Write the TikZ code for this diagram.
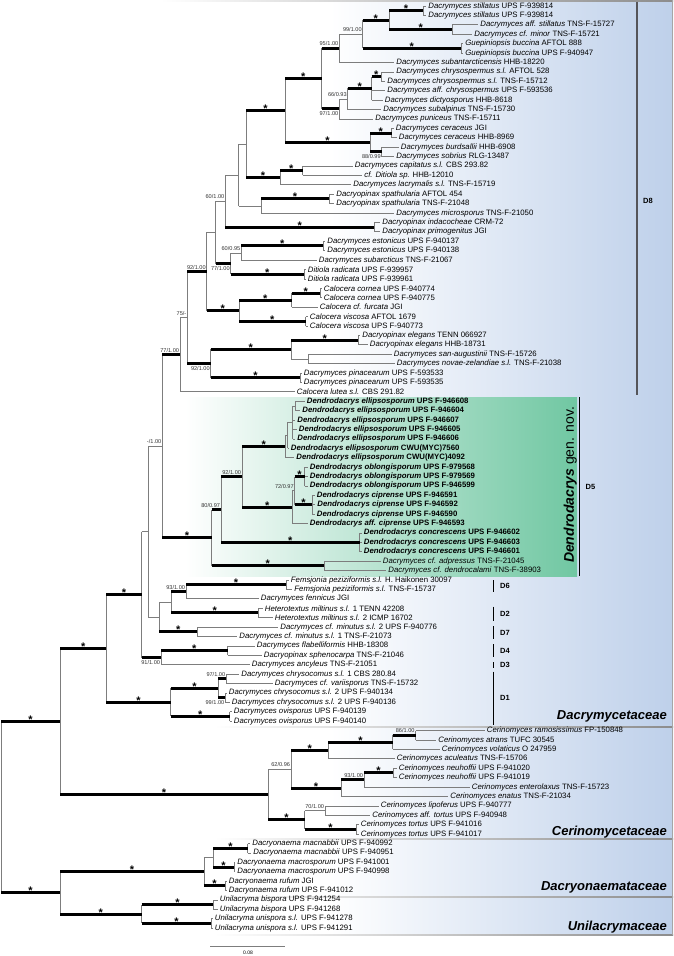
\documentclass[tikz,border=0pt]{standalone}
\definecolor{bgblue}{RGB}{190, 208, 234}
\definecolor{genusgreen}{RGB}{112, 199, 162}
\definecolor{thingray}{RGB}{125, 125, 125}
\definecolor{bargray}{RGB}{85, 85, 90}
\usepackage{fontspec}
\setmainfont{Liberation Sans}
\usepackage{tikz}
\usetikzlibrary{calc}
\tikzset{
    vl/.style={draw=thingray, line width=0.7pt},
    tb/.style={draw=thingray, line width=0.7pt},
    sb/.style={draw=black, line width=3pt},
    leaf/.style={anchor=west, inner sep=0pt, xshift=2.2pt, font=\fontsize{7.8}{9}\selectfont},
    bsl/.style={inner sep=0pt, font=\fontsize{5.6}{6}\selectfont, text=black!80},
    ast/.style={anchor=base, inner sep=0pt, yshift=-2pt, font=\fontsize{11}{11}\selectfont\bfseries},
    clade/.style={draw=black, line width=1.1pt},
    cladelab/.style={anchor=west, inner sep=0pt, font=\fontsize{7.5}{8}\selectfont\bfseries},
    fam/.style={anchor=east, inner sep=0pt, font=\fontsize{13}{13}\selectfont\bfseries\itshape},
    sepline/.style={left color=white, right color=black!45}
}
% leaf i at tip x: italic name, voucher
\newcommand{\lf}[4]{\coordinate (l#1) at (#2,{6+(#1-1)*9.41}); \node[leaf] (t#1) at (l#1) {\textit{#3} #4};}
\newcommand{\lfb}[4]{\coordinate (l#1) at (#2,{6+(#1-1)*9.41}); \node[leaf] (t#1) at (l#1) {\bfseries\textit{#3} #4};}
% internal node at x, halfway between first and last child
\newcommand{\nd}[4]{\path let \p1=(#3), \p2=(#4) in coordinate (#1) at (#2pt,{0.5*(\y1+\y2)});}
% branches: thin, thick, thick with star
\newcommand{\et}[2]{\draw[vl] (#1) -- (#1 |- #2); \draw[tb] (#1 |- #2) -- (#2);}
\newcommand{\eb}[2]{\draw[vl] (#1) -- (#1 |- #2); \draw[sb] (#1 |- #2) -- (#2);}
\newcommand{\es}[2]{\eb{#1}{#2}\node[ast] (a-#2) at ($(#1 |- #2)!.5!(#2)$) {*};}
% support values above / below the branch
\newcommand{\bsa}[2]{\node[bsl, anchor=south east] (s-#1) at ([xshift=-0.8pt, yshift=2.2pt]#1) {#2};}
\newcommand{\bsb}[2]{\node[bsl, anchor=north east] (s-#1) at ([xshift=-0.8pt, yshift=-2.2pt]#1) {#2};}

\begin{document}
\begin{tikzpicture}[x=1pt, y=-1pt]
    \useasboundingbox (0,0) rectangle (673,956);

    % family panels and genus box
    \shade[left color=white, right color=bgblue] (330,0) rectangle (673,935);
    \shade[left color=white, right color=genusgreen] (185,397.3) rectangle (577,576);
    \shade[sepline] (160,0) rectangle (673,1.2);
    \shade[sepline] (215,726.5) rectangle (673,727.5);
    \shade[sepline] (215,838.8) rectangle (673,839.8);
    \shade[sepline] (215,896.2) rectangle (673,897.2);
    \shade[sepline] (215,934.5) rectangle (673,935.5);
    \draw[black!35, line width=0.6pt] (672.6,0) -- (672.6,935);

    % leaves
    \lf{1}{426}{Dacrymyces stillatus}{UPS F-939814}
    \lf{2}{426}{Dacrymyces stillatus}{UPS F-939814}
    \lf{3}{478}{Dacrymyces aff. stillatus}{TNS-F-15727}
    \lf{4}{472}{Dacrymyces cf. minor}{TNS-F-15721}
    \lf{5}{463}{Guepiniopsis buccina}{AFTOL 888}
    \lf{6}{463}{Guepiniopsis buccina}{UPS F-940947}
    \lf{7}{394}{Dacrymyces subantarcticensis}{HHB-18220}
    \lf{8}{394}{Dacrymyces chrysospermus s.l.}{AFTOL 528}
    \lf{9}{385}{Dacrymyces chrysospermus s.l.}{TNS-F-15712}
    \lf{10}{385}{Dacrymyces aff. chrysospermus}{UPS F-593536}
    \lf{11}{382.5}{Dacrymyces dictyosporus}{HHB-8618}
    \lf{12}{381}{Dacrymyces subalpinus}{TNS-F-15730}
    \lf{13}{373}{Dacrymyces puniceus}{TNS-F-15711}
    \lf{14}{393.5}{Dacrymyces ceraceus}{JGI}
    \lf{15}{396.5}{Dacrymyces ceraceus}{HHB-8969}
    \lf{16}{398.5}{Dacrymyces burdsallii}{HHB-6908}
    \lf{17}{394}{Dacrymyces sobrius}{RLG-13487}
    \lf{18}{352.5}{Dacrymyces capitatus s.l.}{CBS 293.82}
    \lf{19}{362}{cf. Ditiola sp.}{HHB-12010}
    \lf{20}{351}{Dacrymyces lacrymalis s.l.}{TNS-F-15719}
    \lf{21}{334}{Dacryopinax spathularia}{AFTOL 454}
    \lf{22}{334}{Dacryopinax spathularia}{TNS-F-21048}
    \lf{23}{394}{Dacrymyces microsporus}{TNS-F-21050}
    \lf{24}{380}{Dacryopinax indacocheae}{CRM-72}
    \lf{25}{380}{Dacryopinax primogenitus}{JGI}
    \lf{26}{325}{Dacrymyces estonicus}{UPS F-940137}
    \lf{27}{325}{Dacrymyces estonicus}{UPS F-940138}
    \lf{28}{316.5}{Dacrymyces subarcticus}{TNS-F-21067}
    \lf{29}{305.5}{Ditiola radicata}{UPS F-939957}
    \lf{30}{305.5}{Ditiola radicata}{UPS F-939961}
    \lf{31}{321.5}{Calocera cornea}{UPS F-940774}
    \lf{32}{321.5}{Calocera cornea}{UPS F-940775}
    \lf{33}{317.5}{Calocera cf. furcata}{JGI}
    \lf{34}{307.5}{Calocera viscosa}{AFTOL 1679}
    \lf{35}{307.5}{Calocera viscosa}{UPS F-940773}
    \lf{36}{360}{Dacryopinax elegans}{TENN 066927}
    \lf{37}{367.5}{Dacryopinax elegans}{HHB-18731}
    \lf{38}{391.5}{Dacrymyces san-augustinii}{TNS-F-15726}
    \lf{39}{394.5}{Dacrymyces novae-zelandiae s.l.}{TNS-F-21038}
    \lf{40}{301.5}{Dacrymyces pinacearum}{UPS F-593533}
    \lf{41}{301.5}{Dacrymyces pinacearum}{UPS F-593535}
    \lf{42}{294.5}{Calocera lutea s.l.}{CBS 291.82}
    \lfb{43}{304.5}{Dendrodacrys ellipsosporum}{UPS F-946608}
    \lfb{44}{300}{Dendrodacrys ellipsosporum}{UPS F-946604}
    \lfb{45}{295}{Dendrodacrys ellipsosporum}{UPS F-946607}
    \lfb{46}{296.5}{Dendrodacrys ellipsosporum}{UPS F-946605}
    \lfb{47}{295}{Dendrodacrys ellipsosporum}{UPS F-946606}
    \lfb{48}{288.5}{Dendrodacrys ellipsosporum}{CWU(MYC)7560}
    \lfb{49}{294}{Dendrodacrys ellipsosporum}{CWU(MYC)4092}
    \lfb{50}{307.5}{Dendrodacrys oblongisporum}{UPS F-979568}
    \lfb{51}{307.5}{Dendrodacrys oblongisporum}{UPS F-979569}
    \lfb{52}{307.5}{Dendrodacrys oblongisporum}{UPS F-946599}
    \lfb{53}{314.5}{Dendrodacrys ciprense}{UPS F-946591}
    \lfb{54}{315}{Dendrodacrys ciprense}{UPS F-946592}
    \lfb{55}{314.5}{Dendrodacrys ciprense}{UPS F-946590}
    \lfb{56}{307.5}{Dendrodacrys aff. ciprense}{UPS F-946593}
    \lfb{57}{361.5}{Dendrodacrys concrescens}{UPS F-946602}
    \lfb{58}{361.5}{Dendrodacrys concrescens}{UPS F-946603}
    \lfb{59}{361.5}{Dendrodacrys concrescens}{UPS F-946601}
    \lf{60}{380.5}{Dacrymyces cf. adpressus}{TNS-F-21045}
    \lf{61}{386}{Dacrymyces cf. dendrocalami}{TNS-F-38903}
    \lf{62}{288.5}{Femsjonia peziziformis s.l.}{H. Haikonen 30097}
    \lf{63}{292}{Femsjonia peziziformis s.l.}{TNS-F-15737}
    \lf{64}{258.5}{Dacrymyces fennicus}{JGI}
    \lf{65}{262.5}{Heterotextus miltinus s.l.}{1 TENN 42208}
    \lf{66}{272.5}{Heterotextus miltinus s.l.}{2 ICMP 16702}
    \lf{67}{278}{Dacrymyces cf. minutus s.l.}{2 UPS F-940776}
    \lf{68}{237}{Dacrymyces cf. minutus s.l.}{1 TNS-F-21073}
    \lf{69}{254.5}{Dacrymyces flabelliformis}{HHB-18308}
    \lf{70}{261.5}{Dacryopinax sphenocarpa}{TNS-F-21046}
    \lf{71}{249.5}{Dacrymyces ancyleus}{TNS-F-21051}
    \lf{72}{239}{Dacrymyces chrysocomus s.l.}{1 CBS 280.84}
    \lf{73}{272.5}{Dacrymyces cf. variisporus}{TNS-F-15732}
    \lf{74}{226.5}{Dacrymyces chrysocomus s.l.}{2 UPS F-940134}
    \lf{75}{229.5}{Dacrymyces chrysocomus s.l.}{2 UPS F-940136}
    \lf{76}{231.5}{Dacrymyces ovisporus}{UPS F-940139}
    \lf{77}{231.5}{Dacrymyces ovisporus}{UPS F-940140}
    \lf{78}{484.5}{Cerinomyces ramosissimus}{FP-150848}
    \lf{79}{436}{Cerinomyces atrans}{TUFC 30545}
    \lf{80}{439.5}{Cerinomyces volaticus}{O 247959}
    \lf{81}{394.5}{Cerinomyces aculeatus}{TNS-F-15706}
    \lf{82}{396.5}{Cerinomyces neuhoffii}{UPS F-941020}
    \lf{83}{396.5}{Cerinomyces neuhoffii}{UPS F-941019}
    \lf{84}{469.5}{Cerinomyces enterolaxus}{TNS-F-15723}
    \lf{85}{448}{Cerinomyces enatus}{TNS-F-21034}
    \lf{86}{378.5}{Cerinomyces lipoferus}{UPS F-940777}
    \lf{87}{370}{Cerinomyces aff. tortus}{UPS F-940948}
    \lf{88}{358.5}{Cerinomyces tortus}{UPS F-941016}
    \lf{89}{358.5}{Cerinomyces tortus}{UPS F-941017}
    \lf{90}{250}{Dacryonaema macnabbii}{UPS F-940992}
    \lf{91}{251}{Dacryonaema macnabbii}{UPS F-940951}
    \lf{92}{235}{Dacryonaema macrosporum}{UPS F-941001}
    \lf{93}{235}{Dacryonaema macrosporum}{UPS F-940998}
    \lf{94}{226.5}{Dacryonaema rufum}{JGI}
    \lf{95}{226.5}{Dacryonaema rufum}{UPS F-941012}
    \lf{96}{217.5}{Unilacryma bispora}{UPS F-941254}
    \lf{97}{217.5}{Unilacryma bispora}{UPS F-941268}
    \lf{98}{212.5}{Unilacryma unispora s.l.}{UPS F-941278}
    \lf{99}{212.5}{Unilacryma unispora s.l.}{UPS F-941291}

    % internal nodes, bottom-up
    \nd{n12}{423}{l1}{l2}       \nd{n34}{452.3}{l3}{l4}
    \nd{n14}{389}{n12}{n34}     \nd{n56}{461}{l5}{l6}
    \nd{n16}{362.7}{n14}{n56}   \nd{n17}{339.3}{n16}{l7}
    \nd{n89}{381}{l8}{l9}       \nd{n811}{371.7}{n89}{l11}
    \nd{n812}{347.7}{n811}{l12} \nd{n813}{339.3}{n812}{l13}
    \nd{n113}{321.7}{n17}{n813}
    \nd{n1415}{391.7}{l14}{l15} \nd{n1617}{381.7}{l16}{l17}
    \nd{n1417}{370}{n1415}{n1617}
    \nd{n117}{285}{n113}{n1417}
    \nd{n1819}{302.7}{l18}{l19} \nd{n1820}{280}{n1819}{l20}
    \nd{n120}{246}{n117}{n1820}
    \nd{n2122}{329}{l21}{l22}   \nd{n2123}{261}{n2122}{l23}
    \nd{n123}{238.7}{n120}{n2123}
    \nd{n2425}{374}{l24}{l25}   \nd{n125}{225.3}{n123}{n2425}
    \nd{n2627}{323.3}{l26}{l27} \nd{n2628}{241.3}{n2627}{l28}
    \nd{n2930}{304}{l29}{l30}   \nd{n2630}{230.7}{n2628}{n2930}
    \nd{n130}{215.7}{n125}{n2630}
    \nd{n3132}{320}{l31}{l32}   \nd{n3133}{291.7}{n3132}{l33}
    \nd{n3435}{305.6}{l34}{l35} \nd{n3135}{239}{n3133}{n3435}
    \nd{n135}{206.7}{n130}{n3135}
    \nd{n3637}{358.4}{l36}{l37} \nd{n3839}{308}{l38}{l39}
    \nd{n3639}{291}{n3637}{n3839}
    \nd{n4041}{300.4}{l40}{l41} \nd{n3641}{210.7}{n3639}{n4041}
    \nd{n141}{187.3}{n135}{n3641}
    \nd{n142}{180}{n141}{l42}
    % Dendrodacrys
    \nd{n4344}{295}{l43}{l44}   \nd{n4347}{292.6}{n4344}{l47}
    \nd{n4348}{287.5}{n4347}{l48} \nd{n4349}{285.4}{n4348}{l49}
    \nd{n5052}{304.5}{l50}{l52} \nd{n5355}{312.3}{l53}{l55}
    \nd{n5055}{294.7}{n5052}{n5355} \nd{n5056}{292.3}{n5055}{l56}
    \nd{n4356}{242}{n4349}{n5056}
    \nd{n5759}{359.7}{l57}{l59} \nd{n4359}{221}{n4356}{n5759}
    \nd{n6061}{324}{l60}{l61}   \nd{n4361}{211.7}{n4359}{n6061}
    \nd{n161}{162.3}{n142}{n4361}
    % D6, D2, D7, D4, D3, D1
    \nd{n6263}{286}{l62}{l63}   \nd{n6264}{186}{n6263}{l64}
    \nd{n6566}{258.3}{l65}{l66} \nd{n6266}{171.3}{n6264}{n6566}
    \nd{n6768}{197.3}{l67}{l68} \nd{n6268}{159.3}{n6266}{n6768}
    \nd{n168}{148.3}{n161}{n6268}
    \nd{n6970}{227.5}{l69}{l70} \nd{n6971}{161}{n6970}{l71}
    \nd{n171}{141.7}{n168}{n6971}
    \nd{n7273}{226.2}{l72}{l73} \nd{n7475}{225.3}{l74}{l75}
    \nd{n7275}{218}{n7273}{n7475}
    \nd{n7677}{229.6}{l76}{l77} \nd{n7277}{170.8}{n7275}{n7677}
    \nd{n177}{106.4}{n171}{n7277}
    % Cerinomycetaceae
    \nd{n7879}{415.5}{l78}{l79} \nd{n7880}{392.7}{n7879}{l80}
    \nd{n7881}{328.3}{n7880}{l81}
    \nd{n8283}{393}{l82}{l83}   \nd{n8284}{364}{n8283}{l84}
    \nd{n8285}{341.2}{n8284}{l85}
    \nd{n7885}{291}{n7881}{n8285}
    \nd{n8687}{325}{l86}{l87}   \nd{n8889}{356.2}{l88}{l89}
    \nd{n8689}{304.7}{n8687}{n8889}
    \nd{n7889}{268.2}{n7885}{n8689}
    \nd{n189}{60}{n177}{n7889}
    % Dacryonaemataceae, Unilacrymaceae
    \nd{n9091}{247.6}{l90}{l91} \nd{n9293}{233.9}{l92}{l93}
    \nd{n9093}{213.3}{n9091}{n9293}
    \nd{n9495}{225.3}{l94}{l95} \nd{n9095}{203.9}{n9093}{n9495}
    \nd{n9697}{213.3}{l96}{l97} \nd{n9899}{211.2}{l98}{l99}
    \nd{n9699}{141.6}{n9697}{n9899}
    \nd{n9099}{60}{n9095}{n9699}
    \nd{root}{1}{n189}{n9099}

    % branches
    \et{n12}{l1} \et{n12}{l2} \et{n34}{l3} \et{n34}{l4}
    \es{n14}{n12} \es{n14}{n34}
    \et{n56}{l5} \et{n56}{l6}
    \es{n16}{n14} \es{n16}{n56}
    \et{n17}{n16} \et{n17}{l7}
    \et{n89}{l8} \et{n89}{l9}
    \es{n811}{n89} \et{n811}{l10} \et{n811}{l11}
    \es{n812}{n811} \et{n812}{l12}
    \et{n813}{n812} \et{n813}{l13}
    \eb{n113}{n17} \eb{n113}{n813}
    \et{n1415}{l14} \et{n1415}{l15} \et{n1617}{l16} \et{n1617}{l17}
    \es{n1417}{n1415} \eb{n1417}{n1617}
    \es{n117}{n113} \es{n117}{n1417}
    \et{n1819}{l18} \et{n1819}{l19}
    \es{n1820}{n1819} \et{n1820}{l20}
    \es{n120}{n117} \es{n120}{n1820}
    \et{n2122}{l21} \et{n2122}{l22}
    \es{n2123}{n2122} \et{n2123}{l23}
    \et{n123}{n120} \et{n123}{n2123}
    \et{n2425}{l24} \et{n2425}{l25}
    \et{n125}{n123} \es{n125}{n2425}
    \et{n2627}{l26} \et{n2627}{l27}
    \es{n2628}{n2627} \et{n2628}{l28}
    \et{n2930}{l29} \et{n2930}{l30}
    \et{n2630}{n2628} \es{n2630}{n2930}
    \et{n130}{n125} \eb{n130}{n2630}
    \et{n3132}{l31} \et{n3132}{l32}
    \es{n3133}{n3132} \et{n3133}{l33}
    \et{n3435}{l34} \et{n3435}{l35}
    \es{n3135}{n3133} \es{n3135}{n3435}
    \et{n135}{n130} \es{n135}{n3135}
    \et{n3637}{l36} \et{n3637}{l37} \et{n3839}{l38} \et{n3839}{l39}
    \es{n3639}{n3637} \et{n3639}{n3839}
    \et{n4041}{l40} \et{n4041}{l41}
    \es{n3641}{n3639} \es{n3641}{n4041}
    \eb{n141}{n135} \eb{n141}{n3641}
    \et{n142}{n141} \et{n142}{l42}
    \et{n4344}{l43} \et{n4344}{l44}
    \et{n4347}{n4344} \et{n4347}{l45} \et{n4347}{l46} \et{n4347}{l47}
    \et{n4348}{n4347} \et{n4348}{l48}
    \et{n4349}{n4348} \et{n4349}{l49}
    \et{n5052}{l50} \et{n5052}{l51} \et{n5052}{l52}
    \et{n5355}{l53} \et{n5355}{l54} \et{n5355}{l55}
    \es{n5055}{n5052} \es{n5055}{n5355}
    \et{n5056}{n5055} \et{n5056}{l56}
    \es{n4356}{n4349} \es{n4356}{n5056}
    \et{n5759}{l57} \et{n5759}{l58} \et{n5759}{l59}
    \eb{n4359}{n4356} \es{n4359}{n5759}
    \et{n6061}{l60} \et{n6061}{l61}
    \eb{n4361}{n4359} \es{n4361}{n6061}
    \eb{n161}{n142} \es{n161}{n4361}
    \et{n6263}{l62} \et{n6263}{l63}
    \es{n6264}{n6263} \et{n6264}{l64}
    \et{n6566}{l65} \et{n6566}{l66}
    \eb{n6266}{n6264} \es{n6266}{n6566}
    \et{n6768}{l67} \et{n6768}{l68}
    \et{n6268}{n6266} \es{n6268}{n6768}
    \et{n168}{n161} \et{n168}{n6268}
    \et{n6970}{l69} \et{n6970}{l70}
    \es{n6971}{n6970} \et{n6971}{l71}
    \et{n171}{n168} \eb{n171}{n6971}
    \et{n7273}{l72} \et{n7273}{l73} \et{n7475}{l74} \et{n7475}{l75}
    \eb{n7275}{n7273} \eb{n7275}{n7475}
    \et{n7677}{l76} \et{n7677}{l77}
    \es{n7277}{n7275} \es{n7277}{n7677}
    \es{n177}{n171} \es{n177}{n7277}
    \et{n7879}{l78} \et{n7879}{l79}
    \eb{n7880}{n7879} \et{n7880}{l80}
    \es{n7881}{n7880} \et{n7881}{l81}
    \et{n8283}{l82} \et{n8283}{l83}
    \es{n8284}{n8283} \et{n8284}{l84}
    \eb{n8285}{n8284} \et{n8285}{l85}
    \es{n7885}{n7881} \es{n7885}{n8285}
    \et{n8687}{l86} \et{n8687}{l87} \et{n8889}{l88} \et{n8889}{l89}
    \et{n8689}{n8687} \es{n8689}{n8889}
    \et{n7889}{n7885} \es{n7889}{n8689}
    \es{n189}{n177} \es{n189}{n7889}
    \et{n9091}{l90} \et{n9091}{l91} \et{n9293}{l92} \et{n9293}{l93}
    \es{n9093}{n9091} \es{n9093}{n9293}
    \et{n9495}{l94} \et{n9495}{l95}
    \et{n9095}{n9093} \es{n9095}{n9495}
    \et{n9697}{l96} \et{n9697}{l97} \et{n9899}{l98} \et{n9899}{l99}
    \es{n9699}{n9697} \es{n9699}{n9899}
    \es{n9099}{n9095} \es{n9099}{n9699}
    \es{root}{n189} \es{root}{n9099}

    % support values
    \bsa{n16}{99/1.00}  \bsa{n17}{95/1.00}  \bsa{n812}{66/0.93}
    \bsb{n813}{97/1.00} \bsb{n1617}{88/0.99} \bsa{n125}{60/1.00}
    \bsa{n2628}{60/0.95} \bsb{n2630}{77/1.00} \bsa{n135}{92/1.00}
    \bsb{n3641}{92/1.00} \bsa{n141}{75/-}   \bsa{n142}{77/1.00}
    \bsa{n161}{-/1.00}  \bsa{n4359}{80/0.97} \bsa{n4356}{92/1.00}
    \bsa{n5055}{72/0.97} \bsa{n6264}{93/1.00} \bsb{n6971}{91/1.00}
    \bsa{n7273}{97/1.00} \bsb{n7475}{99/1.00} \bsa{n7879}{86/1.00}
    \bsa{n7885}{62/0.96} \bsa{n8284}{93/1.00} \bsa{n8687}{70/1.00}

    % clade bars
    \draw[clade, draw=bargray, line width=1.5pt] (637,1.5) coordinate (d8a) -- (637,395) coordinate (d8b);
    \node[cladelab] (lD8) at (643,200.5) {D8};
    \draw[clade] (579.5,397.3) coordinate (d5a) -- (579.5,576) coordinate (d5b);
    \node[cladelab] (lD5) at (585.5,486.7) {D5};
    \node[rotate=90, inner sep=0pt, font=\fontsize{14}{14}\selectfont] (gen) at (570.3,485)
        {\bfseries\itshape Dendrodacrys\/ \mdseries\upshape gen. nov.};
    \foreach \nm/\ya/\yb in {D6/580/591.7, D2/606.7/620.7, D7/626/639.3, D4/644.3/657.3, D3/662.3/668.3, D1/671.7/725} {
        \draw[clade] (493.5,\ya) -- (493.5,\yb);
        \node[cladelab] (l\nm) at (500,{(\ya+\yb)/2}) {\nm};
    }

    % families
    \node[fam] (fDacry) at (667,716.7) {Dacrymycetaceae};
    \node[fam] (fCerin) at (667,831.7) {Cerinomycetaceae};
    \node[fam] (fDnaem) at (667,887.7) {Dacryonaemataceae};
    \node[fam] (fUnila) at (667,926.7) {Unilacrymaceae};

    % scale bar
    \coordinate (sc1) at (210,946);
    \coordinate (sc2) at (285.4,946);
    \draw[thingray, line width=0.8pt] (sc1) -- (sc2);
    \node[inner sep=0pt, font=\fontsize{5}{5}\selectfont] (sclab) at (248,953) {0.08};
\end{tikzpicture}
\end{document}
